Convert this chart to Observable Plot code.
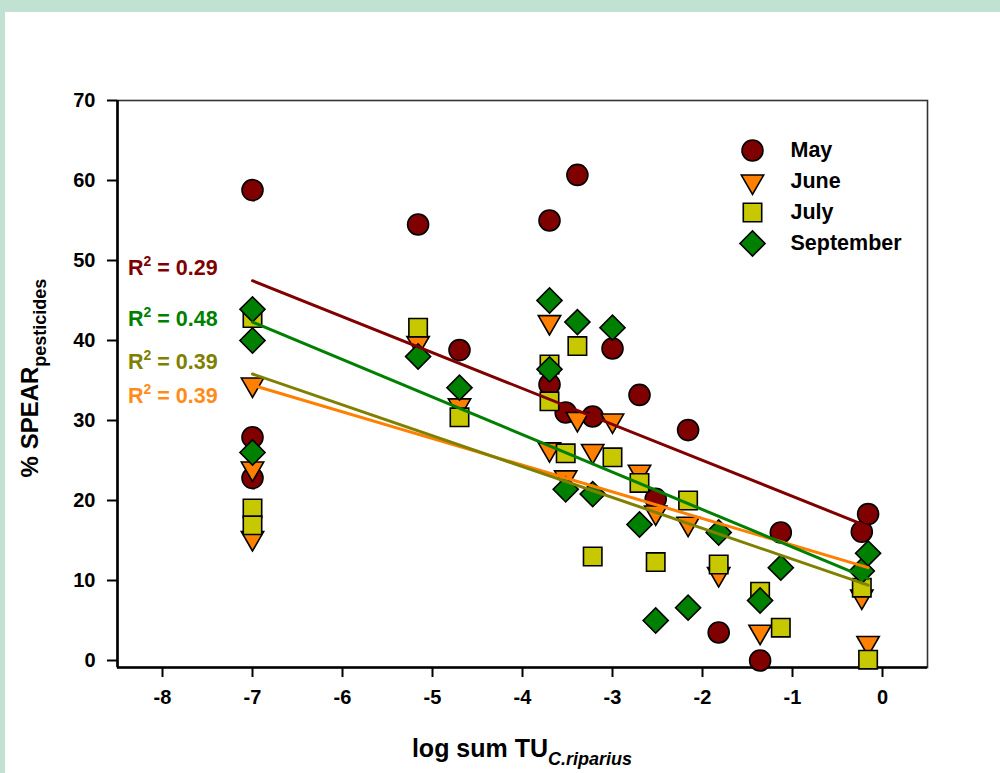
<!DOCTYPE html>
<html><head><meta charset="utf-8">
<script src="https://cdn.jsdelivr.net/npm/d3@7"></script>
<script src="https://cdn.jsdelivr.net/npm/@observablehq/plot@0.6"></script>
<style>
body{margin:0;}
#wrap{position:relative;width:1000px;height:773px;background:#c1e2d3;overflow:hidden;font-family:"Liberation Sans",Arial,sans-serif;}
#panel{position:absolute;left:5px;top:12px;right:0;bottom:0;background:#fff;}
#chart,#legend{position:absolute;}
#chart{left:0;top:0;}
#legend{left:732px;top:134px;}
</style></head>
<body><div id="wrap"><div id="panel"></div><div id="chart"></div><div id="legend"></div></div>
<script>
// ---- data ----
const months = ["May", "June", "July", "September"];
const mayX  = [-7, -7, -7, -5.16, -4.7, -3.7, -3.7, -3.52, -3.39, -3.22, -3.0, -2.7, -2.52, -2.16, -1.82, -1.36, -1.13, -0.23, -0.16];
const mayY  = [58.8, 27.9, 22.8, 54.5, 38.8, 55, 34.5, 31, 60.7, 30.5, 39, 33.2, 20.2, 28.8, 3.5, 0, 16, 16.1, 18.3];
const juneX = [-7, -7, -7, -5.16, -4.7, -3.7, -3.7, -3.52, -3.39, -3.22, -3.0, -2.7, -2.52, -2.16, -1.82, -1.36, -0.23, -0.16];
const juneY = [34.5, 24, 15.3, 39.7, 31.9, 42.3, 26.4, 22.9, 30.2, 26.2, 30, 23.6, 18.5, 17.1, 10.8, 3.6, 8, 2.2];
const julyX = [-7, -7, -7, -5.16, -4.7, -3.7, -3.7, -3.52, -3.39, -3.22, -3.0, -2.7, -2.52, -2.16, -1.82, -1.36, -1.13, -0.23, -0.16];
const julyY = [42.8, 19, 16.9, 41.6, 30.4, 37, 32.4, 25.9, 39.3, 13, 25.4, 22.2, 12.3, 20, 12, 8.6, 4.1, 9.1, 0.1];
const sepX  = [-7, -7, -7, -5.16, -4.7, -3.7, -3.7, -3.52, -3.39, -3.22, -3.0, -2.7, -2.52, -2.16, -1.82, -1.36, -1.13, -0.23, -0.16];
const sepY  = [43.9, 40, 26, 38, 34.1, 45, 36.4, 21.4, 42.3, 20.8, 41.6, 17, 5, 6.6, 16, 7.5, 11.6, 11.2, 13.4];
const r2Labels = ["0.29", "0.39", "0.39", "0.48"]; // May, June, July, September
const xTicks = [-8, -7, -6, -5, -4, -3, -2, -1, 0];
const yTicks = [0, 10, 20, 30, 40, 50, 60, 70];

// ---- styles ----
const sty = {
  May:       {fill: "#800000", line: "#800000", text: "#800000", symbol: "circle",   rotate: 0,   r: 10.5},
  June:      {fill: "#ff8000", line: "#ff8000", text: "#ff8c1a", symbol: "triangle", rotate: 180, r: 8.3},
  July:      {fill: "#c8c800", line: "#808000", text: "#808000", symbol: "square",   rotate: 0,   r: 10.4},
  September: {fill: "#008000", line: "#008000", text: "#008000", symbol: "square",   rotate: 45,  r: 10}
};
const xs = [mayX, juneX, julyX, sepX], ys = [mayY, juneY, julyY, sepY];
const series = months.map((m, i) => xs[i].map((x, j) => ({month: m, x, y: ys[i][j]})));

const dotMarks = series.map((rows, i) => {
  const s = sty[months[i]];
  return Plot.dot(rows, {x: "x", y: "y", symbol: () => s.symbol, fill: s.fill, stroke: "#000", strokeWidth: 1.6, r: s.r, rotate: s.rotate});
});
const regMarks = series.map((rows, i) => Plot.linearRegressionY(rows, {x: "x", y: "y", stroke: sty[months[i]].line, strokeWidth: 3, ci: 0}));

const chart = Plot.plot({
  width: 1000, height: 773,
  marginLeft: 117, marginRight: 73, marginTop: 100, marginBottom: 106,
  style: {background: "transparent", fontFamily: "'Liberation Sans', Arial, sans-serif", fontSize: "20px", fontWeight: "bold", color: "#000"},
  x: {domain: [-8.5, 0.5]},
  y: {domain: [-0.875, 70]},
  symbol: {type: "identity"},
  marks: [
    Plot.frame({stroke: "#333", strokeWidth: 1.6}),
    Plot.axisY(yTicks, {tickSize: 10, tickPadding: 12, strokeWidth: 2, label: null, tickFormat: d => String(d)}),
    Plot.axisX(xTicks, {tickSize: 10, tickPadding: 12, strokeWidth: 2, label: null, tickFormat: d => String(d)}),
    Plot.ruleX([-8.5], {strokeWidth: 2.6}),
    Plot.ruleY([-0.875], {strokeWidth: 2.6}),
    ...dotMarks,
    ...regMarks
  ]
});
document.getElementById("chart").appendChild(chart);

// axis titles and R² labels
const svg = d3.select(chart);
const xt = svg.append("text").attr("x", 522).attr("y", 757).attr("text-anchor", "middle")
  .attr("font-size", 25).attr("font-weight", "bold").attr("fill", "#000");
xt.append("tspan").text("log sum TU");
xt.append("tspan").attr("font-size", 18).attr("font-style", "italic").attr("dy", 8).text("C.riparius");

const yt = svg.append("text").attr("transform", "translate(38,378) rotate(-90)").attr("text-anchor", "middle")
  .attr("font-size", 24).attr("font-weight", "bold").attr("fill", "#000");
yt.append("tspan").text("% SPEAR");
yt.append("tspan").attr("font-size", 18).attr("dy", 8).text("pesticides");

const r2Base = {May: 275, September: 326, July: 369, June: 403};
months.forEach((m, i) => {
  const t = svg.append("text").attr("x", 128).attr("y", r2Base[m]).attr("text-anchor", "start")
    .attr("font-size", 21.5).attr("font-weight", "bold").attr("fill", sty[m].text);
  t.append("tspan").text("R");
  t.append("tspan").attr("font-size", 14).attr("dy", -9).text("2");
  t.append("tspan").attr("dy", 9).text(" = " + r2Labels[i]);
});

// legend
const legend = Plot.plot({
  width: 220, height: 124, margin: 0, marginLeft: 20,
  style: {background: "transparent", fontFamily: "'Liberation Sans', Arial, sans-serif", fontWeight: "bold", color: "#000"},
  y: {type: "point", domain: months, range: [16, 109], padding: 0, axis: null},
  symbol: {type: "identity"},
  marks: [
    ...months.map(m => Plot.dot([m], {y: d => d, frameAnchor: "left", symbol: () => sty[m].symbol, fill: sty[m].fill, stroke: "#000", strokeWidth: 1.6, r: sty[m].r, rotate: sty[m].rotate})),
    Plot.text(months, {y: d => d, text: d => d, frameAnchor: "left", dx: 38, textAnchor: "start", fontSize: 21.5, fontWeight: "bold", fill: "#000"})
  ]
});
document.getElementById("legend").appendChild(legend);
</script>
</body></html>
